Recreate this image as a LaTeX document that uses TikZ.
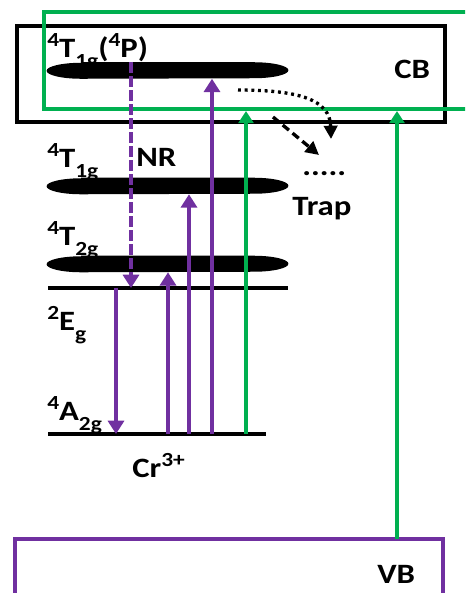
\documentclass[tikz,border=0pt]{standalone}
\usepackage{fontspec}
\setmainfont{Carlito}[FakeStretch=1.17]
\usetikzlibrary{arrows.meta,shapes.geometric}
\definecolor{vio}{HTML}{7030A0}
\definecolor{grn}{HTML}{00B050}
\newcommand\lvlup[1]{\raisebox{8pt}{\fontsize{15}{15}\selectfont#1}}
\newcommand\lvldn[1]{\raisebox{-7.5pt}{\fontsize{15}{15}\selectfont#1}}
\begin{document}
\begin{tikzpicture}[x=0.75pt,y=-0.75pt,
    lbl/.style={font=\bfseries\fontsize{21}{25}\selectfont,inner sep=0pt,anchor=base west},
    bar/.style={rectangle,inner sep=0pt,minimum width=181pt,minimum height=12pt},
    lvl/.style={line width=3pt},
    pup/.style={vio,line width=3pt,-{Triangle[width=12pt,length=10pt]}},
    gup/.style={grn,line width=3pt,-{Triangle[width=11pt,length=9pt]}},
    tip/.style={line width=2.5pt,-{Triangle[width=10pt,length=10pt]}}]
  \useasboundingbox (0,0) rectangle (465,593);
  \clip (0,0) rectangle (465,593);
  % bands
  \draw[line width=3pt] (16.5,26) rectangle (445,122);
  \draw[grn,line width=3pt] (470,12) -- (43.5,12) -- (43.5,109) -- (470,109);
  \draw[vio,line width=3pt] (15,539) rectangle (443,620);
  \node[lbl] (cb) at (394,78) {CB};
  \node[lbl] (vb) at (377,583) {VB};
  % Cr3+ levels
  \node[bar] (barP) at (167.5,70.5) {};
  \node[bar] (barA) at (167.5,186) {};
  \node[bar] (barB) at (167.5,264) {};
  \foreach \b in {barP,barA,barB}
    \fill ([xshift=26pt]\b.north west) -- ([xshift=-26pt]\b.north east)
      arc[start angle=90,end angle=-90,x radius=26pt,y radius=6pt]
      -- ([xshift=26pt]\b.south west)
      arc[start angle=270,end angle=90,x radius=26pt,y radius=6pt] -- cycle;
  \coordinate (eL) at (48,288);
  \coordinate (eR) at (288,288);
  \coordinate (gL) at (48,434);
  \coordinate (gR) at (266,434);
  \draw[lvl] (eL) -- (eR);
  \draw[lvl] (gL) -- (gR);
  \node[lbl] (lP) at (47,57) {\lvlup{4}T\lvldn{1g}(\lvlup{4}P)};
  \node[lbl] (lA) at (47,167) {\lvlup{4}T\lvldn{1g}};
  \node[lbl] (lB) at (47,245) {\lvlup{4}T\lvldn{2g}};
  \node[lbl] (lE) at (47,330) {\lvlup{2}E\lvldn{g}};
  \node[lbl] (lG) at (47,420) {\lvlup{4}A\lvldn{2g}};
  \node[lbl] (nr) at (136,166) {NR};
  \node[lbl] (cr) at (132,477) {Cr\lvlup{3+}};
  % transitions
  \draw[pup,dash pattern=on 8pt off 2.5pt] (131,0 |- barP.north) -- (131,0 |- eL);
  \draw[pup] (116,0 |- eL) -- (116,0 |- gL);
  \foreach \x/\tgt in {168/barB,189/barA,212/barP}
    \draw[pup] (\x,0 |- gL) -- (\x,0 |- \tgt.south);
  \coordinate (cbA) at (246,111);
  \coordinate (cbB) at (397,111);
  \coordinate (vbB) at (397,539);
  \draw[gup] (cbA |- gL) -- (cbA);
  \draw[gup] (vbB) -- (cbB);
  % trap
  \node[lbl] (dots) at (302,175) {.....};
  \node[lbl] (trap) at (292,215) {Trap};
  \coordinate (t0) at (238,90);
  \coordinate (t1) at (331,139);
  \coordinate (t2) at (273,117);
  \coordinate (t3) at (319,155);
  \draw[tip,dash pattern=on 2.2pt off 2.8pt] (t0) .. controls (300,90) and (330,100) .. (t1);
  \draw[tip,dash pattern=on 6pt off 3.5pt] (t2) -- (t3);
\end{tikzpicture}
\end{document}
